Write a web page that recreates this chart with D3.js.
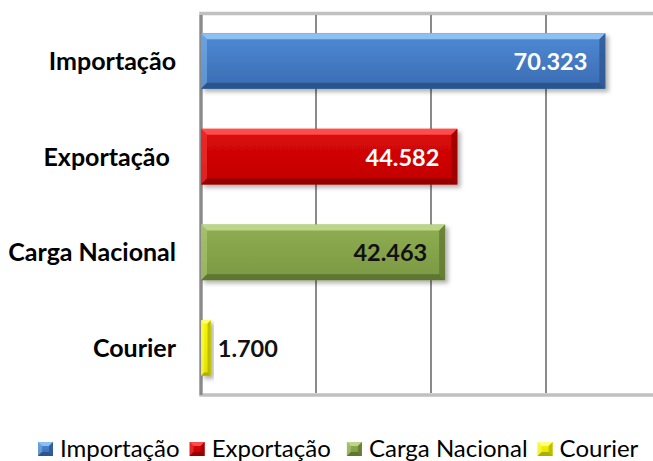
<!DOCTYPE html>
<html>
<head>
<meta charset="utf-8">
<script src="https://cdn.jsdelivr.net/npm/d3@7"></script>
<style>
  html, body { margin: 0; padding: 0; background: #fff; }
  svg { display: block; font-family: Lato, "Open Sans", sans-serif; }
</style>
</head>
<body>
<svg id="chart" width="653" height="461"></svg>
<script>
// category names as in the source sheet (Exportação carries a trailing space)
var categories = ["Importação", "Exportação ", "Carga Nacional", "Courier"]
var values = [70323, 44582, 42463, 1700]
var xTicks = [0, 20000, 40000, 60000, 80000]

// colours for each bar: face, light bevel, dark bevel
var faceTop = ["#4f8ad6", "#dd0a0a", "#8fae52", "#f6f600"]
var faceBottom = ["#3a6cb2", "#c00000", "#7b9842", "#e2e200"]
var bevelLight = ["#8cc0f2", "#ff4d4d", "#bcd588", "#ffff80"]
var bevelDark = ["#2c558c", "#940000", "#5d7630", "#adad00"]
var labelColors = ["#ffffff", "#ffffff", "#111111", "#111111"]

var ptBR = d3.formatLocale({ decimal: ",", thousands: ".", grouping: [3], currency: ["R$", ""] })
var fmt = ptBR.format(",d")

var svg = d3.select("#chart")
var defs = svg.append("defs")

var PLOT = { left: 201, right: 661, top: 14, bottom: 395 }

var x = d3.scaleLinear().domain([0, 80000]).range([PLOT.left, PLOT.right])
var y = d3.scaleBand().domain(categories).range([PLOT.top, PLOT.bottom])
  .paddingInner(0.42).paddingOuter(0.2)

// drop shadow for the bars
var shadow = defs.append("filter").attr("id", "shadow")
  .attr("x", "-20%").attr("y", "-20%").attr("width", "150%").attr("height", "150%")
shadow.append("feDropShadow")
  .attr("dx", 3).attr("dy", 3).attr("stdDeviation", 2)
  .attr("flood-color", "#000").attr("flood-opacity", 0.3)

categories.forEach(function(c, i) {
  var g = defs.append("linearGradient").attr("id", "face" + i)
    .attr("x1", 0).attr("y1", 0).attr("x2", 0).attr("y2", 1)
  g.append("stop").attr("offset", "0%").attr("stop-color", faceTop[i])
  g.append("stop").attr("offset", "100%").attr("stop-color", faceBottom[i])
})

// plot frame
svg.append("rect")
  .attr("x", PLOT.left).attr("y", PLOT.top - 0.5)
  .attr("width", PLOT.right - PLOT.left + 10).attr("height", PLOT.bottom - PLOT.top + 0.5)
  .attr("fill", "none").attr("stroke", "#c0c0c0").attr("stroke-width", 3.5)

// vertical gridlines
svg.selectAll(".grid")
  .data(xTicks.slice(1))
  .enter().append("line")
  .attr("class", "grid")
  .attr("x1", function(d) { return x(d) }).attr("x2", function(d) { return x(d) })
  .attr("y1", PLOT.top + 1).attr("y2", PLOT.bottom - 2)
  .attr("stroke", "#8a8a8a").attr("stroke-width", 2)

// category axis line
svg.append("line")
  .attr("x1", PLOT.left).attr("x2", PLOT.left)
  .attr("y1", PLOT.top + 1).attr("y2", PLOT.bottom)
  .attr("stroke", "#8a8a8a").attr("stroke-width", 3)

// bevelled box, used by the bars and the legend keys
function bevelBox(sel, x0, y0, x1, y1, b, i) {
  b = Math.min(b, (x1 - x0) / 3, (y1 - y0) / 3)
  sel.append("rect")
    .attr("x", x0).attr("y", y0).attr("width", x1 - x0).attr("height", y1 - y0)
    .attr("fill", "url(#face" + i + ")")
  var pts = function(p) { return p.map(function(q) { return q.join(",") }).join(" ") }
  sel.append("polygon")
    .attr("points", pts([[x0, y0], [x1, y0], [x1 - b, y0 + b], [x0 + b, y0 + b]]))
    .attr("fill", bevelLight[i])
  sel.append("polygon")
    .attr("points", pts([[x0, y0], [x0 + b, y0 + b], [x0 + b, y1 - b], [x0, y1]]))
    .attr("fill", bevelLight[i]).attr("opacity", 0.45)
  sel.append("polygon")
    .attr("points", pts([[x1, y0], [x1, y1], [x1 - b, y1 - b], [x1 - b, y0 + b]]))
    .attr("fill", bevelDark[i]).attr("opacity", 0.75)
  sel.append("polygon")
    .attr("points", pts([[x0, y1], [x1, y1], [x1 - b, y1 - b], [x0 + b, y1 - b]]))
    .attr("fill", bevelDark[i])
}

var bars = svg.selectAll(".bar")
  .data(categories)
  .enter().append("g")
  .attr("class", "bar")
  .attr("filter", "url(#shadow)")

bars.each(function(c, i) {
  var y0 = y(c)
  bevelBox(d3.select(this), x(0), y0, x(values[i]), y0 + y.bandwidth(), 6, i)
})

// value labels: inside the bar end, outside if the bar is too short
svg.selectAll(".value")
  .data(categories)
  .enter().append("text")
  .attr("class", "value")
  .attr("font-size", 23.5).attr("font-weight", 700)
  .attr("fill", function(c, i) { return labelColors[i] })
  .text(function(c, i) { return fmt(values[i]) })
  .each(function(c, i) {
    var t = d3.select(this)
    var w = this.getComputedTextLength()
    var end = x(values[i])
    var cy = y(c) + y.bandwidth() / 2 + 9
    if (end - x(0) > w + 30) {
      t.attr("x", end - 18).attr("y", cy).attr("text-anchor", "end")
    } else {
      t.attr("x", end + 7).attr("y", cy).attr("text-anchor", "start")
    }
  })

// category labels
svg.selectAll(".cat")
  .data(categories)
  .enter().append("text")
  .attr("class", "cat")
  .attr("xml:space", "preserve")
  .attr("x", 176)
  .attr("y", function(c) { return y(c) + y.bandwidth() / 2 + 9 })
  .attr("text-anchor", "end")
  .attr("font-size", 25).attr("font-weight", 700).attr("fill", "#000")
  .text(function(c) { return c })

// legend
var legend = svg.append("g").attr("class", "legend")
var lx = 38
categories.forEach(function(c, i) {
  var item = legend.append("g")
  bevelBox(item, lx, 442, lx + 15, 456, 4, i)
  var t = item.append("text")
    .attr("xml:space", "preserve")
    .attr("x", lx + 22).attr("y", 457)
    .attr("font-size", 24).attr("fill", "#000")
    .text(c)
  lx += 22 + t.node().getComputedTextLength() + 10
})
</script>
</body>
</html>
